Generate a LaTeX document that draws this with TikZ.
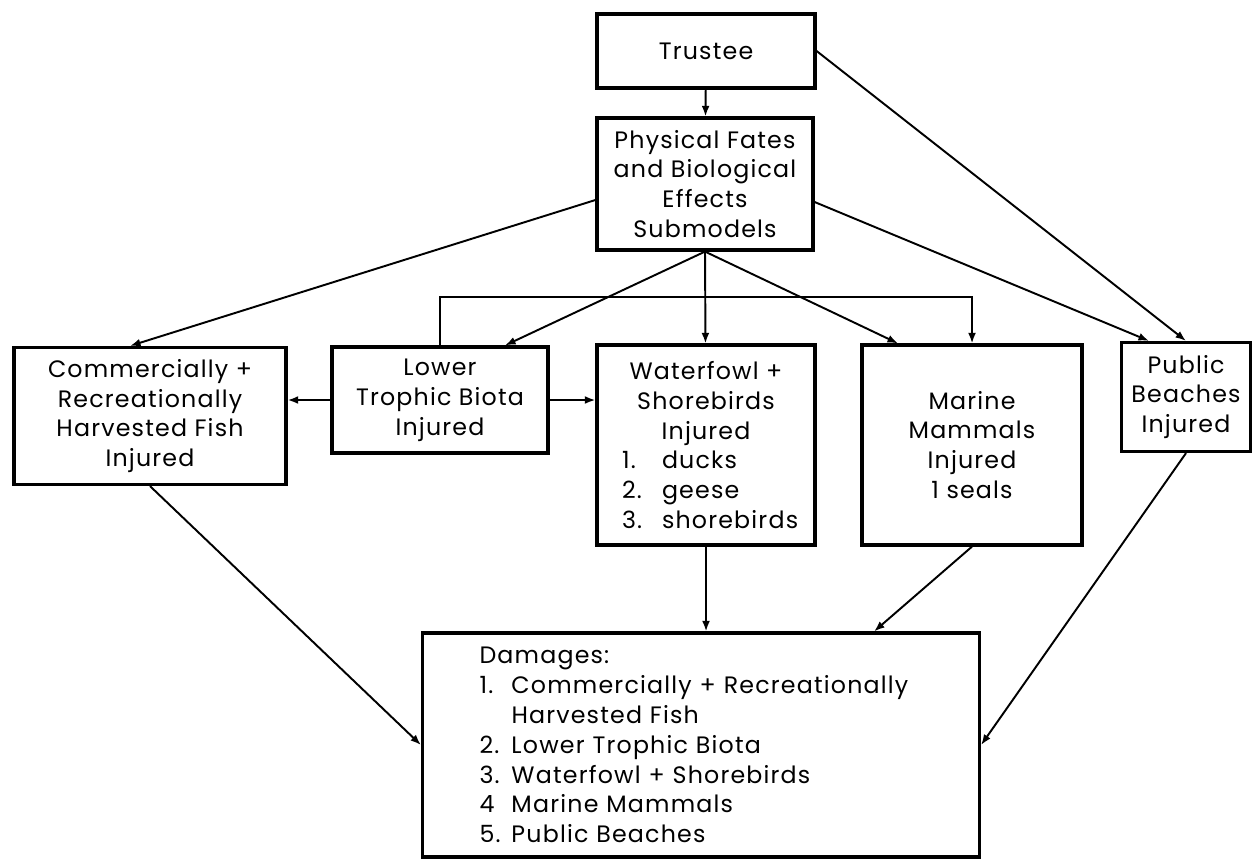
\documentclass[tikz,border=0pt]{standalone}
\usepackage{fontspec}
\setmainfont{Poppins}[LetterSpace=5]
\usetikzlibrary{arrows.meta,calc}

\begin{document}
\begin{tikzpicture}[x=0.2mm,y=-0.2mm,
    box/.style={draw,line width=1.8pt,align=center,inner sep=0pt,
      font=\fontsize{13.5}{17}\selectfont},
    link/.style={line width=1.1pt,-{Latex[length=6pt,width=4.5pt]}}]
  \useasboundingbox (0,0) rectangle (1255,860);

  \node[box,minimum width=4.36cm,minimum height=1.48cm] (trustee) at (706,51) {Trustee};
  \node[box,minimum width=4.32cm,minimum height=2.64cm] (phys) at (705,184)
    {Physical Fates\\and Biological\\Effects\\Submodels};
  \node[box,minimum width=5.44cm,minimum height=2.74cm] (comm) at (150,416)
    {Commercially +\\Recreationally\\Harvested Fish\\Injured};
  \node[box,minimum width=4.32cm,minimum height=2.12cm] (lower) at (440,400)
    {Lower\\Trophic Biota\\Injured};
  \node[box,minimum width=4.36cm,minimum height=4cm] (water) at (706,445)
    {Waterfowl +\\Shorebirds\\Injured\\
     \makebox[3.36cm][l]{\makebox[0.8cm][l]{1.}ducks}\\
     \makebox[3.36cm][l]{\makebox[0.8cm][l]{2.}geese}\\
     \makebox[3.36cm][l]{\makebox[0.8cm][l]{3.}shorebirds}};
  \node[box,minimum width=4.4cm,minimum height=4cm] (marine) at (972,445)
    {Marine\\Mammals\\Injured\\1 seals};
  \node[box,minimum width=2.58cm,minimum height=2.18cm] (beach) at (1186,397)
    {Public\\Beaches\\Injured};
  \node[box,minimum height=4.48cm,align=left,text width=8.86cm,inner xsep=1.14cm] (dmg) at (701,745)
    {Damages:\\
     \makebox[0.64cm][l]{1.}Commercially + Recreationally\\
     \hspace*{0.64cm}Harvested Fish\\
     \makebox[0.64cm][l]{2.}Lower Trophic Biota\\
     \makebox[0.64cm][l]{3.}Waterfowl + Shorebirds\\
     \makebox[0.64cm][l]{4}Marine Mammals\\
     \makebox[0.64cm][l]{5.}Public Beaches};

  \coordinate (loop) at (700,297);

  \path[link]
    (trustee) edge (phys)
    (trustee.east) edge (beach.north)
    ($(phys.west)+(0,16)$) edge ($(comm.north)+(-20,0)$)
    (phys.south) edge ($(lower.north)+(65,0)$)
                 edge (water)
                 edge ($(marine.north)+(-74,0)$)
    ($(phys.east)+(0,18)$) edge ($(beach.north)+(-37,0)$)
    (lower.west) edge (comm.east |- lower.west)
    (lower.east) edge (water.west |- lower.east)
    (comm.south) edge (dmg.west)
    (water.south) edge (water.south |- dmg.north)
    (marine.south) edge ($(dmg.north east)+(-107,0)$)
    (beach.south) edge (dmg.east);
  \draw[link] (lower.north) |- (loop) -| (marine.north);
\end{tikzpicture}
\end{document}
